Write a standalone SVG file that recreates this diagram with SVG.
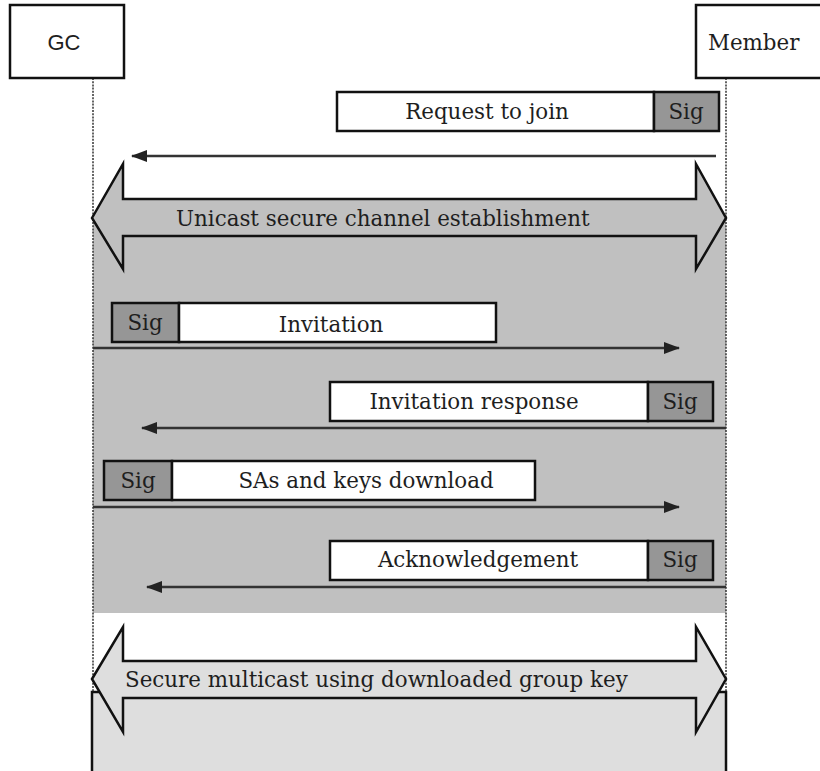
<svg xmlns="http://www.w3.org/2000/svg" width="820" height="771" viewBox="0 0 820 771">
  <defs>
    <marker id="head" viewBox="0 0 16 12" refX="15" refY="6" markerWidth="16" markerHeight="12" markerUnits="userSpaceOnUse" orient="auto">
      <path d="M0,0 L16,6 L0,12 z" fill="#222"/>
    </marker>
    <style>
      text { font-family: "DejaVu Serif", "Liberation Serif", serif; font-size: 21.4px; fill: #1e1e1e; }
      .gc { font-family: "Liberation Sans", Arial, sans-serif; font-size: 22px; }
      .box { fill: #fff; stroke: #111; stroke-width: 2.5; }
      .sig { fill: #969696; stroke: #111; stroke-width: 2.5; }
      .life { stroke: #333; stroke-width: 1.5; stroke-dasharray: 2 1.2; fill: none; }
      .msg { stroke: #333; stroke-width: 2.5; fill: none; marker-end: url(#head); }
      .big { stroke: #111; stroke-width: 2.5; stroke-linejoin: miter; }
    </style>
  </defs>

  <rect width="820" height="771" fill="#fff"/>

  <!-- shaded phase behind the unicast exchange -->
  <rect x="93" y="218" width="633" height="395" fill="#c0c0c0"/>

  <!-- multicast phase box, runs off the bottom -->
  <rect x="92" y="692" width="634" height="90" fill="#dedede" stroke="#111" stroke-width="2.5"/>

  <!-- lifelines -->
  <g id="lifelines">
    <line class="life" x1="93" y1="78" x2="93" y2="692"/>
    <line class="life" x1="726" y1="78" x2="726" y2="692"/>
  </g>

  <g id="gc">
    <rect x="10" y="5" width="114" height="73" class="box" stroke-width="2"/>
    <text class="gc" x="64" y="50" text-anchor="middle">GC</text>
  </g>
  <g id="member">
    <rect x="696" y="5" width="140" height="73" class="box" stroke-width="2"/>
    <text x="708" y="50">Member</text>
  </g>

  <g id="unicast-channel">
    <polygon class="big" fill="#c0c0c0" points="92,218 123,164 123,199 696,199 696,164 726,218 696,269 696,236 123,236 123,269"/>
    <text x="176" y="226">Unicast secure channel establishment</text>
  </g>

  <g id="multicast-channel">
    <polygon class="big" fill="#dedede" points="92,679 123,627 123,661 696,661 696,627 726,679 696,732 696,698 123,698 123,732"/>
    <text x="125" y="687">Secure multicast using downloaded group key</text>
  </g>

  <g id="request">
    <rect class="box" x="337" y="92" width="317" height="39"/>
    <rect class="sig" x="654" y="92" width="65" height="39"/>
    <text x="487" y="119" text-anchor="middle">Request to join</text>
    <text x="686" y="119" text-anchor="middle">Sig</text>
  </g>

  <g id="invitation">
    <rect class="sig" x="112" y="303" width="67" height="39"/>
    <rect class="box" x="179" y="303" width="317" height="39"/>
    <text x="145" y="330" text-anchor="middle">Sig</text>
    <text x="331" y="332" text-anchor="middle">Invitation</text>
  </g>

  <g id="invitation-response">
    <rect class="box" x="330" y="382" width="318" height="39"/>
    <rect class="sig" x="648" y="382" width="65" height="39"/>
    <text x="474" y="409" text-anchor="middle">Invitation response</text>
    <text x="680" y="409" text-anchor="middle">Sig</text>
  </g>

  <g id="sas-download">
    <rect class="sig" x="104" y="461" width="68" height="39"/>
    <rect class="box" x="172" y="461" width="363" height="39"/>
    <text x="138" y="488" text-anchor="middle">Sig</text>
    <text x="366" y="488" text-anchor="middle">SAs and keys download</text>
  </g>

  <g id="acknowledgement">
    <rect class="box" x="330" y="541" width="318" height="39"/>
    <rect class="sig" x="648" y="541" width="65" height="39"/>
    <text x="478" y="567" text-anchor="middle">Acknowledgement</text>
    <text x="680" y="567" text-anchor="middle">Sig</text>
  </g>

  <!-- message connectors -->
  <g id="connectors">
    <line class="msg" x1="716" y1="156" x2="132" y2="156"/>
    <line class="msg" x1="93" y1="348" x2="679" y2="348"/>
    <line class="msg" x1="726" y1="428" x2="142" y2="428"/>
    <line class="msg" x1="93" y1="507" x2="679" y2="507"/>
    <line class="msg" x1="726" y1="587" x2="147" y2="587"/>
  </g>
</svg>
